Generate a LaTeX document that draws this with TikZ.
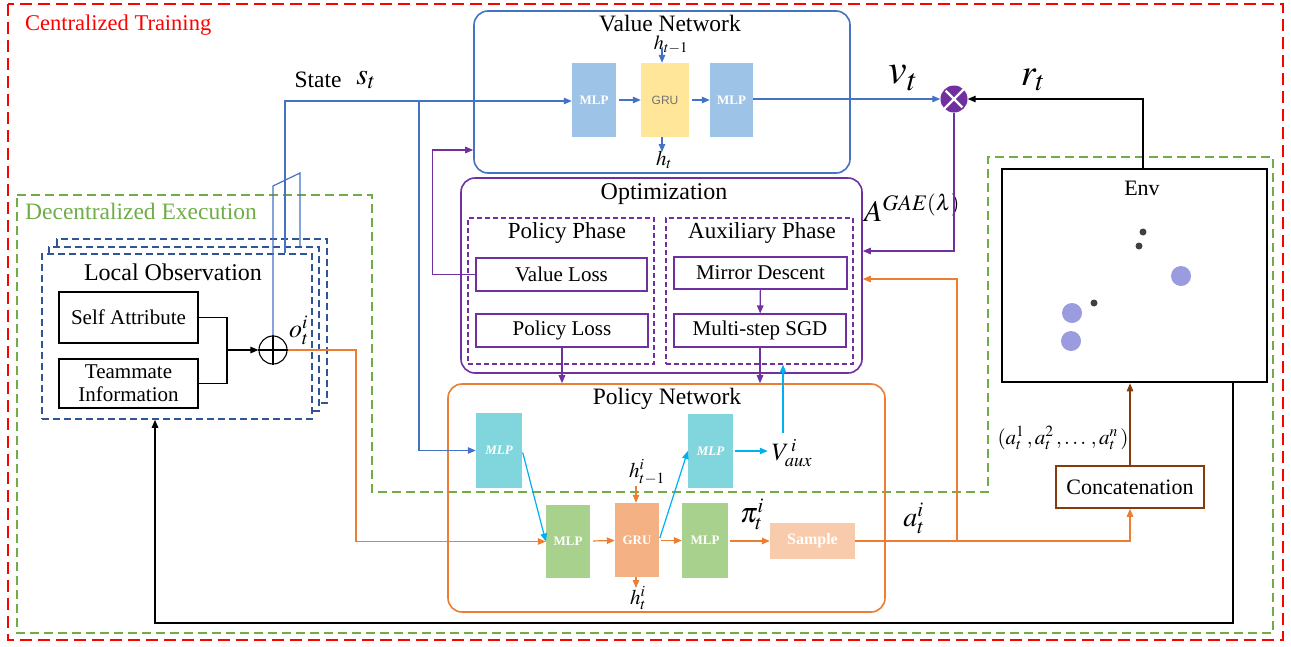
\documentclass[tikz,border=0pt]{standalone}
\usepackage{amsmath, amssymb}
\usepackage{mathptmx}
\usepackage{fontspec}
\setmainfont{Liberation Serif}
\setsansfont{Liberation Sans}
\usepackage{tikz}
\usetikzlibrary{arrows.meta,positioning}

\definecolor{cred}{RGB}{255,0,0}
\definecolor{cgreen}{RGB}{112,173,71}
\definecolor{vblue}{RGB}{68,114,196}
\definecolor{cpurple}{RGB}{112,48,160}
\definecolor{corange}{RGB}{237,125,49}
\definecolor{ccyan}{RGB}{0,176,240}
\definecolor{cbrown}{RGB}{132,60,12}
\definecolor{cdblue}{RGB}{47,85,151}
\definecolor{mlpblue}{RGB}{157,195,230}
\definecolor{gruyellow}{RGB}{255,230,153}
\definecolor{mlpcyan}{RGB}{128,214,220}
\definecolor{mlpgreen}{RGB}{169,209,142}
\definecolor{gruorange}{RGB}{244,177,131}
\definecolor{samplefill}{RGB}{248,203,173}
\definecolor{agentdot}{RGB}{155,155,223}

\tikzset{
	net/.style={draw, rounded corners=14pt, line width=1.6pt, inner sep=0pt},
	ttl/.style={inner sep=0pt, font=\fontsize{23.5}{26}\selectfont},
	lbox/.style={draw, line width=1.1pt, inner sep=0pt, align=center, font=\fontsize{21}{23}\selectfont},
	phase/.style={draw=cpurple, line width=1.2pt, dash pattern=on 5pt off 3pt, inner sep=0pt, minimum height=146pt},
	obsbox/.style={draw=cdblue, line width=1.6pt, dash pattern=on 7pt off 4pt, fill=white, inner sep=0pt, minimum width=270pt, minimum height=164pt},
	blk/.style={inner sep=0pt, text=white, font=\bfseries\fontsize{13}{14}\selectfont},
	arr/.style={-{Triangle[length=8pt,width=6.5pt]}, line width=1.2pt},
	ln/.style={line width=1.2pt},
}

\begin{document}
\begin{tikzpicture}[x=1pt,y=1pt,yscale=-1]
	\useasboundingbox (0,0) rectangle (1291,646);
	
	%Frames
	\draw[cred, line width=1.4pt, dash pattern=on 12pt off 6pt] (8,4) rectangle (1283,640);
	\draw[cgreen, line width=1.6pt, dash pattern=on 9pt off 5pt] (17,195) -- (372,195) -- (372,492) -- (988,492) -- (988,157) -- (1273,157) -- (1273,633) -- (17,633) -- cycle;
	\node[ttl, text=cred, anchor=west, font=\fontsize{22.5}{25}\selectfont] (ctlbl) at (25,25) {Centralized Training};
	\node[ttl, text=cgreen, anchor=west] (delbl) at (25,211) {Decentralized Execution};
	
	%Value Network
	\node[net, draw=vblue, minimum width=376pt, minimum height=162pt] (vnet) at (662,92) {};
	\node[ttl] (vnetlbl) at (670,24) {Value Network};
	\node[blk, fill=mlpblue, minimum width=44pt, minimum height=74pt] (vmlpa) at (594,100) {MLP};
	\node[blk, fill=gruyellow, text=black!55, font=\sffamily\fontsize{12}{13}\selectfont, minimum width=48pt, minimum height=74pt] (vgru) at (665,100) {GRU};
	\node[blk, fill=mlpblue, minimum width=43pt, minimum height=74pt] (vmlpb) at (731.5,100) {MLP};
	\draw[arr, vblue, shorten <=3pt] (vmlpa) -- (vgru);
	\draw[arr, vblue, shorten <=3pt] (vgru) -- (vmlpb);
	\node[inner sep=0pt, font=\fontsize{20}{22}\selectfont] (hvprev) at (671,45) {$h_{t-1}$};
	\coordinate (hvin) at (662,48);
	\draw[arr, vblue] (hvin) -- (hvin |- vgru.north);
	\node[inner sep=0pt, font=\fontsize{21}{23}\selectfont] (hvt) at (664,160) {$h_t$};
	\coordinate (hvout) at (662,152);
	\draw[arr, vblue] (hvout |- vgru.south) -- (hvout);
	
	%State input
	\node[ttl] (statelbl) at (318,80) {State};
	\node[inner sep=0pt, font=\fontsize{30}{32}\selectfont] (st) at (366,80) {$s_t$};
	\coordinate (sA) at (285,101);
	\coordinate (sB) at (419,101);
	
	%Combination
	\node[circle, fill=cpurple, minimum size=27pt, inner sep=0pt] (mul) at (954,99) {};
	\draw[white, line width=2.4pt, shorten <=2pt, shorten >=2pt] (mul.45) -- (mul.225) (mul.135) -- (mul.315);
	\draw[arr, vblue] (vmlpb.east |- mul) -- (mul.west);
	\node[inner sep=0pt, font=\fontsize{42}{44}\selectfont] (vt) at (903,78) {$v_t$};
	\node[inner sep=0pt, font=\fontsize{38}{40}\selectfont] (rt) at (1033,80) {$r_t$};
	\node[inner sep=0pt, font=\fontsize{30}{32}\selectfont] (adv) at (912,208) {$A^{GAE(\lambda)}$};
	
	%Optimization
	\node[net, draw=cpurple, minimum width=401pt, minimum height=195pt] (opt) at (661.5,275.5) {};
	\node[ttl, font=\fontsize{24}{26}\selectfont] (optlbl) at (664,194) {Optimization};
	\node[phase, minimum width=186pt] (pphase) at (561,291) {};
	\node[phase, minimum width=187pt] (aphase) at (759.5,291) {};
	\node[ttl, font=\fontsize{23}{25}\selectfont] (pphaselbl) at (567,233) {Policy Phase};
	\node[ttl, font=\fontsize{23}{25}\selectfont] (aphaselbl) at (762,233) {Auxiliary Phase};
	\node[lbox, draw=cpurple, minimum width=171pt, minimum height=33pt] (vloss) at (561.5,274.5) {Value Loss};
	\node[lbox, draw=cpurple, minimum width=172pt, minimum height=33pt] (ploss) at (562,330.5) {Policy Loss};
	\node[lbox, draw=cpurple, minimum width=173pt, minimum height=32pt] (mirror) at (760.5,273) {Mirror Descent};
	\node[lbox, draw=cpurple, minimum width=172pt, minimum height=33pt] (sgd) at (760,330.5) {Multi-step SGD};
	\draw[arr, cpurple] (mirror) -- (sgd);
	\draw[arr, cpurple] (vloss.west) -- ++(-43,0) |- (vnet.west |- 0,150);
	\draw[arr, cpurple] (mul.south) |- (opt.east |- 0,251);
	
	%Policy Network
	\node[net, draw=corange, minimum width=437pt, minimum height=228pt] (pnet) at (666.5,498) {};
	\node[ttl] (pnetlbl) at (667,399) {Policy Network};
	\node[blk, fill=mlpcyan, font=\bfseries\itshape\fontsize{13}{14}\selectfont, minimum width=46pt, minimum height=75pt] (pmlpa) at (499,450.5) {MLP};
	\node[blk, fill=mlpcyan, font=\bfseries\itshape\fontsize{13}{14}\selectfont, minimum width=45pt, minimum height=74pt] (pmlpb) at (710.5,451) {MLP};
	\node[blk, fill=mlpgreen, minimum width=44pt, minimum height=73pt] (gmlpa) at (568,541.5) {MLP};
	\node[blk, fill=gruorange, minimum width=44pt, minimum height=74pt] (pgru) at (637,540) {GRU};
	\node[blk, fill=mlpgreen, minimum width=46pt, minimum height=75pt] (gmlpb) at (705,540.5) {MLP};
	\node[blk, fill=samplefill, font=\bfseries\fontsize{16}{18}\selectfont, minimum width=85pt, minimum height=36pt] (sample) at (812.5,541) {Sample};
	\draw[arr, corange, shorten <=3pt] (gmlpa) -- (pgru);
	\draw[arr, corange, shorten <=2pt] (pgru.east |- gmlpb) -- (gmlpb.west);
	\draw[arr, corange, shorten <=2pt] (gmlpb.east |- sample) -- (sample.west);
	\draw[arr, ccyan, shorten <=2pt] (pmlpa.east) -- (gmlpa.west);
	\draw[arr, ccyan, shorten <=2pt] (pgru.east) -- (pmlpb.west);
	\node[inner sep=0pt, font=\fontsize{25}{27}\selectfont] (vaux) at (792,453) {$V^{\,i}_{aux}$};
	\draw[arr, ccyan, shorten <=2pt, shorten >=4pt] (pmlpb.east) -- (vaux.west |- pmlpb.east);
	\coordinate (vauxup) at (783,433);
	\draw[arr, ccyan] (vauxup) -- (vauxup |- aphase.south);
	\node[inner sep=0pt, font=\fontsize{21}{23}\selectfont] (hpprev) at (647,472) {$h^i_{t-1}$};
	\coordinate (hpin) at (636,486);
	\draw[arr, corange] (hpin) -- (hpin |- pgru.north);
	\node[inner sep=0pt, font=\fontsize{21}{23}\selectfont] (hpt) at (638,598) {$h^i_t$};
	\coordinate (hpout) at (636,588);
	\draw[arr, corange] (hpout |- pgru.south) -- (hpout);
	\node[inner sep=0pt, font=\fontsize{28}{30}\selectfont] (pit) at (752,514) {$\pi^i_t$};
	\draw[arr, cpurple] (ploss.south) -- (ploss.south |- pnet.north);
	\draw[arr, cpurple] (sgd.south) -- (sgd.south |- pnet.north);
	
	%Local Observation
	\node[obsbox] (obsb) at (192,321) {};
	\node[obsbox] (obsm) at (184,329) {};
	\node[obsbox, minimum height=165pt] (obsf) at (177,336.5) {};
	\node[ttl, font=\fontsize{24}{26}\selectfont] (obslbl) at (173,272) {Local Observation};
	\node[lbox, minimum width=139pt, minimum height=51pt] (self) at (128.5,317.5) {Self Attribute};
	\node[lbox, minimum width=139pt, minimum height=49pt] (team) at (128.5,383.5) {Teammate\\Information};
	\node[circle, draw, line width=1.1pt, minimum size=28pt, inner sep=0pt] (oplus) at (273,350) {};
	\draw[line width=1.1pt] (oplus.north) -- (oplus.south) (oplus.west) -- (oplus.east);
	\node[inner sep=0pt, font=\fontsize{26}{28}\selectfont] (ot) at (299,330) {$o^i_t$};
	\coordinate (join) at (227,350);
	\draw[ln] (self.east) -| (join) |- (team.east);
	\draw[arr] (join) -- (oplus.west);
	
	%State lines
	\coordinate (fanL) at (273,186);
	\coordinate (fanR) at (300,173);
	\draw[ln, vblue] (oplus.north) -- (fanL) -- (fanR) -- (fanR |- obsm.north);
	\draw[arr, vblue] (sA |- obsf.north) -- (sA) -- (vmlpa.west |- sA);
	\draw[arr, vblue] (sB) |- (pmlpa.west);
	\draw[arr, corange] (oplus.east) -- (356,350) |- (gmlpa.west);
	
	%Env
	\node[draw, line width=2.6pt, minimum width=265pt, minimum height=213pt] (env) at (1134.5,275.5) {};
	\node[ttl, font=\fontsize{22}{24}\selectfont] (envlbl) at (1142,188) {Env};
	\fill[black!75] (1143,232) circle (3.5) (1139,246) circle (3.5) (1094,303) circle (3.5);
	\fill[agentdot] (1181,276) circle (10) (1072,313) circle (10) (1071,341) circle (10);
	\draw[arr] (env.north -| 1143,0) |- (mul.east);
	
	%Concatenation
	\node[lbox, draw=cbrown, line width=1.5pt, font=\fontsize{22}{24}\selectfont, minimum width=148pt, minimum height=42pt] (concat) at (1130,487) {Concatenation};
	\draw[arr, cbrown] (concat.north) -- (concat.north |- env.south);
	\node[inner sep=0pt, font=\fontsize{21}{23}\selectfont] (acts) at (1063,438) {$(a^1_t\,, a^2_t\,, \ldots\,, a^n_t\,)$};
	
	%Actions
	\coordinate (aj) at (957,541);
	\draw[ln, corange] (sample.east) -- (aj);
	\draw[arr, corange] (aj) -| (concat.south);
	\draw[arr, corange] (aj) |- (opt.east |- 0,279);
	\node[inner sep=0pt, font=\fontsize{28}{30}\selectfont] (ait) at (914,518) {$a^i_t$};
	
	%Feedback
	\coordinate (fbr) at (1233,623);
	\coordinate (fbl) at (155,623);
	\draw[arr] (fbr |- env.south) -- (fbr) -- (fbl) -- (fbl |- obsf.south);
	
\end{tikzpicture}
\end{document}
